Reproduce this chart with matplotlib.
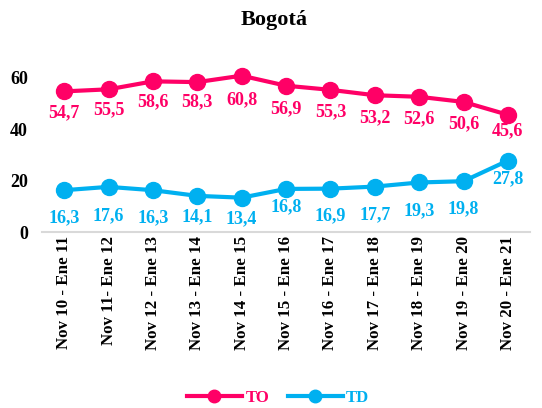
import matplotlib.pyplot as plt

# Data
periods = ['Nov 10 - Ene 11', 'Nov 11- Ene 12', 'Nov 12 - Ene 13', 'Nov 13 - Ene 14',
           'Nov 14 - Ene 15', 'Nov 15 - Ene 16', 'Nov 16 - Ene 17', 'Nov 17 - Ene 18',
           'Nov 18 - Ene 19', 'Nov 19 - Ene 20', 'Nov 20 - Ene 21']
to_values = [54.7, 55.5, 58.6, 58.3, 60.8, 56.9, 55.3, 53.2, 52.6, 50.6, 45.6]
td_values = [16.3, 17.6, 16.3, 14.1, 13.4, 16.8, 16.9, 17.7, 19.3, 19.8, 27.8]
y_ticks = [0, 20, 40, 60]

pink = '#FF0066'
cyan = '#00B0F0'
font = 'Liberation Serif'

# label offsets below each point (pixels)
to_off = [21, 20, 20, 20, 24, 23, 22, 22, 22, 22, 16]
td_off = [28, 29, 28, 21, 21, 18, 27, 28, 28, 28, 18]

fig = plt.figure(figsize=(5.42, 4.08), dpi=100)
ax = fig.add_axes([0.0775, 0.431, 0.9005, 0.41])

x = list(range(len(periods)))
ax.plot(x, to_values, color=pink, lw=3, marker='o', ms=11.5, label='TO')
ax.plot(x, td_values, color=cyan, lw=3, marker='o', ms=11.5, label='TD')

px = 72 / 100
for i, v in enumerate(to_values):
    ax.annotate(f'{v:.1f}'.replace('.', ','), (i, v), xytext=(0, -to_off[i] * px),
                textcoords='offset points', ha='center', va='center',
                color=pink, fontsize=13, fontweight='bold', family=font)
for i, v in enumerate(td_values):
    ax.annotate(f'{v:.1f}'.replace('.', ','), (i, v), xytext=(0, -td_off[i] * px),
                textcoords='offset points', ha='center', va='center',
                color=cyan, fontsize=13, fontweight='bold', family=font)

ax.set_xlim(-0.5, len(periods) - 0.5)
ax.set_ylim(0, 65)
ax.set_yticks(y_ticks)
ax.set_yticklabels([str(t) for t in y_ticks], fontsize=13, fontweight='bold', family=font)
ax.set_xticks(x)
ax.set_xticklabels(periods, rotation=90, fontsize=12.2, fontweight='bold', family=font)
ax.tick_params(length=0)
ax.tick_params(axis='y', pad=10)
ax.tick_params(axis='x', pad=3)
for s in ['top', 'right', 'left']:
    ax.spines[s].set_visible(False)
ax.spines['bottom'].set_color('#D9D9D9')
ax.spines['bottom'].set_linewidth(1.5)

fig.text(0.505, 0.95, 'Bogotá', ha='center', va='center', fontsize=16,
         fontweight='bold', family=font)

leg = fig.legend(loc='center', bbox_to_anchor=(0.513, 0.025), ncol=2, frameon=False,
                 handlelength=3.3, columnspacing=1.1, handletextpad=0.2,
                 prop={'family': font, 'weight': 'bold', 'size': 12})
for text, c in zip(leg.get_texts(), [pink, cyan]):
    text.set_color(c)
for h in leg.legend_handles:
    h.set_markersize(9)

fig.savefig('out.png', dpi=100)
